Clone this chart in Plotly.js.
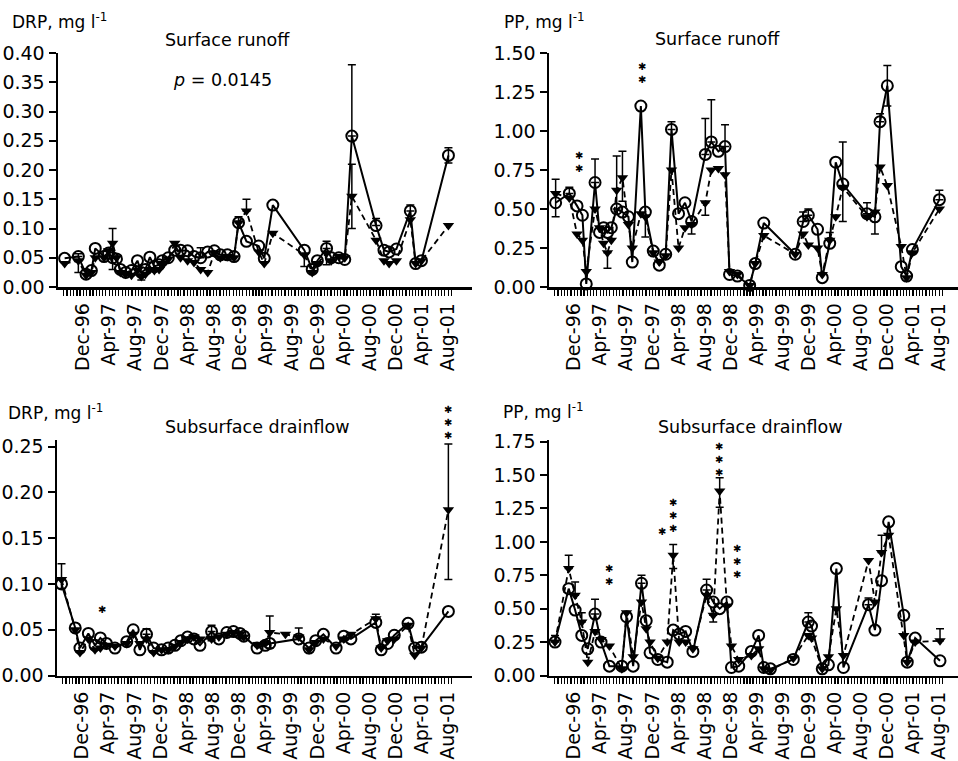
<!DOCTYPE html>
<html><head><meta charset="utf-8">
<script src="https://cdn.plot.ly/plotly-3.0.1.min.js"></script>
<style>html,body{margin:0;padding:0;background:#fff}#chart{width:958px;height:761px}</style>
</head><body><div id="chart"></div>
<script>
const _ = NaN; // no error bar

// ---------- tick labels ----------
const tickLabels = ['Dec-96','Apr-97','Aug-97','Dec-97','Apr-98','Aug-98','Dec-98','Apr-99','Aug-99','Dec-99','Apr-00','Aug-00','Dec-00','Apr-01','Aug-01'];
const tickDates = ['1996-12-01','1997-04-01','1997-08-01','1997-12-01','1998-04-01','1998-08-01','1998-12-01','1999-04-01','1999-08-01','1999-12-01','2000-04-01','2000-08-01','2000-12-01','2001-04-01','2001-08-01'];

// ---------- surface runoff (top panels) ----------
const surfDates = ['1996-09-05','1996-11-08','1996-12-14','1997-01-08','1997-01-26','1997-03-08','1997-03-29','1997-04-17','1997-05-05','1997-05-23',
  '1997-06-17','1997-07-14','1997-08-11','1997-08-29','1997-09-17','1997-10-08','1997-10-29','1997-11-20','1997-12-05','1998-01-02',
  '1998-02-01','1998-02-28','1998-04-02','1998-05-02','1998-06-02','1998-07-05','1998-08-05','1998-09-02','1998-10-05','1998-11-05',
  '1998-11-26','1999-01-02','1999-02-28','1999-03-26','1999-05-05','1999-09-29','1999-11-05','1999-11-29','2000-01-11','2000-02-02',
  '2000-03-08','2000-04-05','2000-05-08','2000-08-29','2000-10-05','2000-10-29','2000-12-02','2001-02-05','2001-03-02','2001-03-29','2001-08-02'];

const drpSurfCircle = [0.049,0.052,0.022,0.028,0.066,0.052,0.058,0.050,0.048,0.030,
  0.025,0.028,0.045,0.025,0.030,0.051,0.035,0.038,0.045,0.050,
  0.063,0.063,0.062,0.052,0.050,0.060,0.062,0.055,0.055,0.052,
  0.110,0.078,0.070,0.049,0.140,0.063,0.030,0.045,0.066,0.050,
  0.050,0.047,0.258,0.105,0.063,0.060,0.065,0.130,0.040,0.045,0.225];
const drpSurfTri = [0.040,0.045,0.020,0.025,0.050,0.050,0.062,0.075,0.050,0.025,
  0.022,0.020,0.028,0.018,0.022,0.030,0.028,0.030,0.040,0.048,
  0.075,0.050,0.045,0.042,0.030,0.025,0.058,0.050,0.052,0.050,
  0.110,0.130,0.060,0.040,0.092,0.055,0.025,0.040,0.058,0.045,
  0.052,0.050,0.155,0.080,0.045,0.040,0.045,0.115,0.040,0.045,0.105];
const drpSurfCircleUp = [_,0.005,_,_,_,_,_,_,_,_, _,_,_,_,_,_,_,_,_,_, _,_,_,_,0.017,_,_,_,_,_, _,_,_,_,_,_,_,_,0.012,_, _,_,0.122,0.012,_,_,_,0.010,_,_,0.013];
const drpSurfCircleDown = [_,_,_,_,_,_,_,_,_,_, _,_,_,_,_,_,_,_,_,_, _,_,_,_,_,_,_,_,_,_, _,_,_,_,_,_,_,_,_,_, _,_,_,_,_,_,_,_,_,_,0.013];
const drpSurfTriUp = [_,_,_,_,_,_,_,0.025,_,_, _,_,_,_,_,_,_,_,_,_, _,_,_,_,_,_,_,_,_,_, 0.010,0.020,_,_,_,_,_,_,_,_, _,_,0.055,_,_,_,_,_,_,_,_];
const drpSurfTriDown = [_,0.020,_,_,_,_,_,0.045,_,_, _,_,_,0.006,_,_,_,_,_,_, _,_,_,_,_,_,_,_,_,_, _,_,_,_,_,0.020,_,_,0.020,_, _,_,0.055,_,_,_,_,_,_,_,_];

const ppSurfCircle = [0.54,0.60,0.52,0.46,0.02,0.67,0.35,0.38,0.35,0.38,
  0.50,0.48,0.45,0.16,null,1.16,0.48,null,0.23,0.14,
  0.21,1.01,0.47,0.54,0.42,null,0.85,0.93,0.87,0.90,
  0.08,0.07,0.01,0.15,0.41,0.21,0.42,0.46,0.37,0.06,
  0.28,0.80,0.66,0.47,0.45,1.06,1.29,0.13,0.07,0.24,0.56];
const ppSurfTri = [0.60,0.57,0.34,0.30,0.10,0.50,0.38,0.28,0.22,0.30,
  0.62,0.70,0.40,0.25,null,0.47,0.45,null,0.22,0.16,
  0.20,0.75,0.25,0.38,0.40,null,0.54,0.75,0.76,0.72,
  0.10,0.08,0.01,0.15,0.33,0.21,0.34,0.27,0.25,0.08,
  0.30,0.45,0.64,0.45,0.48,0.77,0.65,0.26,0.06,0.22,0.50];
const ppSurfCircleUp = [0.15,0.04,_,_,_,0.15,_,_,_,_, _,_,_,_,_,_,_,_,_,_, _,0.05,_,_,_,_,0.23,0.27,_,0.14, _,_,_,_,_,_,0.06,0.04,_,_, _,_,0.27,0.07,_,0.05,0.13,_,_,_,0.06];
const ppSurfCircleDown = [0.09,_,_,_,_,_,_,_,_,_, _,_,_,_,_,_,_,_,_,_, _,_,_,_,_,_,_,_,_,_, _,_,_,_,_,_,_,_,_,_, _,_,0.24,_,_,_,0.13,_,_,_,_];
const ppSurfTriUp = [_,_,_,_,_,_,_,_,_,_, 0.22,0.17,_,_,_,_,_,_,_,_, _,_,_,_,_,_,_,_,_,_, _,_,_,_,_,_,_,_,_,_, 0.05,_,_,_,_,_,_,_,_,_,_];
const ppSurfTriDown = [_,_,_,_,_,_,_,_,0.10,_, 0.12,0.15,_,_,_,_,0.13,_,_,_, _,_,_,_,0.06,_,0.08,_,_,_, _,_,_,_,_,_,_,_,_,_, _,_,_,_,0.14,_,_,_,_,_,_];

// ---------- subsurface drainflow (bottom panels) ----------
const drpSubDates = ['1996-08-26','1996-10-29','1996-11-20','1996-12-29','1997-01-29','1997-02-23','1997-03-23','1997-05-02','1997-06-26','1997-07-26',
  '1997-08-26','1997-09-26','1997-10-29','1997-12-05','1998-01-05','1998-02-05','1998-03-05','1998-04-05','1998-05-05','1998-06-02',
  '1998-07-26','1998-08-29','1998-10-05','1998-11-05','1998-12-05','1998-12-23','1999-02-23','1999-04-02','1999-04-23','1999-07-05',
  '1999-09-05','1999-10-23','1999-11-23','1999-12-29','2000-02-26','2000-04-02','2000-05-05','2000-08-29','2000-09-23','2000-10-23',
  '2000-11-23','2001-01-26','2001-02-26','2001-03-29','2001-08-02'];
const drpSubCircle = [0.100,0.052,0.030,0.046,0.033,0.041,0.035,0.030,0.037,0.050,
  0.028,0.045,0.030,0.028,0.030,0.033,0.038,0.042,0.040,0.033,
  0.048,0.040,0.047,0.048,0.046,0.043,0.030,0.033,0.035,null,
  0.040,0.030,0.038,0.045,0.030,0.043,0.040,0.058,0.028,0.035,
  0.044,0.057,0.030,0.031,0.070];
const drpSubTri = [0.105,0.050,0.025,0.040,0.028,0.030,0.033,0.032,0.035,0.045,
  0.035,0.040,0.025,0.028,0.028,0.032,0.036,0.040,0.042,0.040,
  0.040,0.042,0.045,0.047,0.045,0.042,0.033,0.035,0.047,0.045,
  0.042,0.028,0.036,0.040,0.032,0.040,0.045,0.062,0.030,0.038,
  0.040,0.055,0.022,0.030,0.181];
const drpSubCircleUp = [_,_,_,_,_,_,_,_,_,_, _,0.006,_,_,_,_,_,_,_,_, _,_,_,_,_,_,_,_,_,_, _,_,_,_,_,_,_,_,_,_, _,_,_,_,_];
const drpSubCircleDown = [_,_,_,_,_,_,_,_,_,_, _,_,_,_,_,_,_,_,_,_, 0.010,_,_,_,_,_,_,_,_,_, _,_,_,_,_,_,_,_,_,_, _,_,_,_,_];
const drpSubTriUp = [0.017,_,_,_,_,_,_,_,_,_, _,_,_,_,_,_,_,_,_,_, 0.015,_,_,_,_,_,_,_,0.018,_, 0.010,_,_,_,_,_,_,0.005,_,_, _,_,_,_,0.072];
const drpSubTriDown = [0.010,_,_,_,_,_,_,_,_,_, _,_,_,_,_,_,_,_,_,_, _,_,_,_,_,_,_,_,0.017,_, _,_,_,_,_,_,_,_,_,_, _,_,_,_,0.076];

const ppSubDates = ['1996-09-02','1996-11-05','1996-12-05','1997-01-05','1997-02-02','1997-03-08','1997-04-05','1997-05-14','1997-07-11','1997-08-02',
  '1997-09-02','1997-10-11','1997-11-02','1997-11-20','1997-12-26','1998-02-08','1998-03-08','1998-04-05','1998-05-05','1998-06-08',
  '1998-08-11','1998-09-11','1998-10-11','1998-11-14','1998-12-05','1999-01-08','1999-03-08','1999-04-11','1999-05-05','1999-06-05',
  '1999-09-20','1999-11-29','1999-12-14','2000-02-02','2000-03-02','2000-04-08','2000-05-11','2000-09-05','2000-10-05','2000-11-05',
  '2000-12-08','2001-02-17','2001-03-05','2001-04-11','2001-08-05'];
const ppSubCircle = [0.25,0.65,0.49,0.30,0.20,0.46,0.25,0.07,0.07,0.44,
  0.07,0.69,0.41,0.17,0.12,0.10,0.34,0.31,0.33,0.18,
  0.64,0.55,0.50,0.55,0.06,0.07,0.18,0.30,0.06,0.05,
  0.12,0.40,0.37,0.05,0.08,0.80,0.06,0.53,0.34,0.71,
  1.15,0.45,0.10,0.28,0.11];
const ppSubTri = [0.25,0.80,0.60,0.40,0.10,0.33,0.27,0.22,0.05,0.47,
  0.14,0.55,0.35,0.25,0.13,0.25,0.90,0.25,0.25,0.20,
  0.60,0.45,1.38,0.52,0.22,0.12,0.15,0.20,0.05,0.04,
  0.13,0.30,0.28,0.05,0.14,0.50,0.15,0.86,0.55,0.92,
  1.05,0.30,0.10,0.25,0.26];
const ppSubCircleUp = [0.05,_,_,_,_,0.11,_,_,_,_, _,0.06,_,_,_,_,_,_,_,_, 0.08,_,_,_,_,_,_,_,_,_, _,0.07,_,_,_,_,_,0.05,_,_, _,_,_,_,_];
const ppSubCircleDown = [_,_,_,_,_,_,_,_,_,_, _,_,_,_,_,_,_,_,_,_, _,_,_,_,_,_,_,_,_,_, _,_,_,_,_,_,_,_,_,_, _,_,_,_,_];
const ppSubTriUp = [_,0.10,0.10,0.07,_,_,_,_,_,_, _,_,_,_,_,_,0.08,_,_,_, _,_,0.10,_,_,_,_,_,_,_, _,_,_,_,_,_,_,_,_,0.13, _,_,_,_,0.09];
const ppSubTriDown = [_,_,_,_,_,_,_,_,_,_, _,_,_,_,_,_,0.10,_,_,_, _,0.05,0.12,_,_,_,_,_,_,_, _,_,_,_,_,_,_,_,_,_, _,_,_,_,_];

// ---------- significance asterisks (date, level, count) ----------
const sigPP1 = [['1996-12-23',0.80,2],['1997-10-11',1.37,2]];
const sigDRP2 = [['1997-03-01',0.072,1],['2001-08-02',0.276,3]];
const sigPP2 = [['1997-05-10',0.75,2],['1998-01-14',1.075,1],['1998-03-08',1.20,3],['1998-10-08',1.62,3],['1998-12-29',0.85,3]];

// ---------- build ----------
const FONT = 'DejaVu Sans, Arial, sans-serif';
const W = 958, H = 761;

function halfMonthTicks() {
  const vals = [];
  let y = 1996, m = 9;
  while (y < 2001 || (y === 2001 && m <= 8)) {
    for (const d of [1, 16]) {
      vals.push(y + '-' + String(m).padStart(2, '0') + '-' + String(d).padStart(2, '0'));
    }
    m++; if (m > 12) { m = 1; y++; }
  }
  return vals.filter(v => tickDates.indexOf(v) < 0);
}
const minorVals = halfMonthTicks();

function err(up, down) {
  return { type: 'data', symmetric: false, array: up, arrayminus: down, color: '#000', thickness: 1.5, width: 4, visible: true };
}
function panel(n, dates, circ, tri, cUp, cDown, tUp, tDown) {
  const xa = n === 1 ? 'x' : 'x' + n, ya = n === 1 ? 'y' : 'y' + n;
  return [
    { type: 'scatter', mode: 'lines+markers', x: dates, y: tri, xaxis: xa, yaxis: ya, connectgaps: true, cliponaxis: false,
      line: { color: '#000', width: 1.8, dash: '6px,4px' },
      marker: { symbol: 'triangle-down', size: 10, color: '#000' },
      error_y: err(tUp, tDown) },
    { type: 'scatter', mode: 'lines+markers', x: dates, y: circ, xaxis: xa, yaxis: ya, connectgaps: true, cliponaxis: false,
      line: { color: '#000', width: 2 },
      marker: { symbol: 'circle-open', size: 11, color: '#000', line: { color: '#000', width: 2 } },
      error_y: err(cUp, cDown) }
  ];
}

const data = [].concat(
  panel(1, surfDates, drpSurfCircle, drpSurfTri, drpSurfCircleUp, drpSurfCircleDown, drpSurfTriUp, drpSurfTriDown),
  panel(2, surfDates, ppSurfCircle, ppSurfTri, ppSurfCircleUp, ppSurfCircleDown, ppSurfTriUp, ppSurfTriDown),
  panel(3, drpSubDates, drpSubCircle, drpSubTri, drpSubCircleUp, drpSubCircleDown, drpSubTriUp, drpSubTriDown),
  panel(4, ppSubDates, ppSubCircle, ppSubTri, ppSubCircleUp, ppSubCircleDown, ppSubTriUp, ppSubTriDown)
);

function xAxis(domain, range, anchor) {
  return { type: 'date', domain, range, anchor, showline: true, linecolor: '#000', linewidth: 2.5,
    ticks: 'outside', ticklen: 6, tickwidth: 1.3, tickcolor: '#000',
    tickmode: 'array', tickvals: tickDates, ticktext: tickLabels, tickangle: -90,
    minor: { tickmode: 'array', tickvals: minorVals, ticks: 'outside', ticklen: 6, tickwidth: 1.3, tickcolor: '#000', showgrid: false },
    tickfont: { family: FONT, size: 19, color: '#000' }, showgrid: false, zeroline: false, fixedrange: true };
}
function yAxis(domain, range, dtick, anchor) {
  return { domain, range, anchor, showline: true, linecolor: '#000', linewidth: 2.5,
    ticks: 'outside', ticklen: 7, tickwidth: 2, tickcolor: '#000',
    tick0: 0, dtick, tickformat: '.2f',
    tickfont: { family: FONT, size: 19, color: '#000' }, showgrid: false, zeroline: false, fixedrange: true };
}
const topY = [1 - 287 / H, 1 - 53 / H];
const botY = [1 - 675.5 / H, 1 - 440 / H];
const leftRange = ['1996-08-05', '2001-11-20'];
const rightRange = ['1996-08-05', '2001-10-28'];
const yRanges = { 1: [0, 0.40], 2: [0, 1.5], 3: [0, 0.2573], 4: [0, 1.7625] };
const yDomains = { 1: topY, 2: topY, 3: botY, 4: botY };

const annotations = [];
function txt(text, px, py, xanchor, size) {
  annotations.push({ text, x: px / W, y: 1 - py / H, xref: 'paper', yref: 'paper', xanchor, yanchor: 'middle',
    showarrow: false, font: { family: FONT, size, color: '#000' } });
}
txt('DRP, mg l<sup>-1</sup>', 10, 21, 'left', 17);
txt('Surface runoff', 227, 40, 'center', 17.5);
txt('<i>p</i> = 0.0145', 222, 80, 'center', 17.5);
txt('PP, mg l<sup>-1</sup>', 502, 21, 'left', 17);
txt('Surface runoff', 717, 39, 'center', 17.5);
txt('DRP, mg l<sup>-1</sup>', 6, 412, 'left', 17);
txt('Subsurface drainflow', 257, 427, 'center', 17.5);
txt('PP, mg l<sup>-1</sup>', 501, 411, 'left', 17);
txt('Subsurface drainflow', 750, 427, 'center', 17.5);

function stars(list, n) {
  const xr = n === 1 ? 'x' : 'x' + n, yr = n === 1 ? 'y' : 'y' + n;
  const top = yRanges[n][1];
  const pxPerUnit = (yDomains[n][1] - yDomains[n][0]) * H / top;
  for (const [d, v, k] of list) {
    // levels above the axis top are pinned to the top and shifted up in pixels
    const yy = Math.min(v, top), shift = (v - yy) * pxPerUnit;
    annotations.push({ text: Array(k).fill('\u2731').join('<br>'), x: d, y: yy, xref: xr, yref: yr, showarrow: false,
      yshift: shift, font: { family: FONT, size: 10, color: '#000' } });
  }
}
stars(sigPP1, 2);
stars(sigDRP2, 3);
stars(sigPP2, 4);

const layout = {
  width: W, height: H, margin: { l: 0, r: 0, t: 0, b: 0 }, showlegend: false,
  paper_bgcolor: '#fff', plot_bgcolor: '#fff', font: { family: FONT, color: '#000' },
  xaxis: xAxis([58 / W, 472 / W], leftRange, 'y'),
  yaxis: yAxis(topY, yRanges[1], 0.05, 'x'),
  xaxis2: xAxis([549 / W, 1], rightRange, 'y2'),
  yaxis2: yAxis(topY, yRanges[2], 0.25, 'x2'),
  xaxis3: xAxis([57 / W, 472 / W], leftRange, 'y3'),
  yaxis3: yAxis(botY, yRanges[3], 0.05, 'x3'),
  xaxis4: xAxis([549 / W, 1], rightRange, 'y4'),
  yaxis4: yAxis(botY, yRanges[4], 0.25, 'x4'),
  annotations
};
Plotly.newPlot('chart', data, layout, { displayModeBar: false, staticPlot: true });
</script></body></html>
